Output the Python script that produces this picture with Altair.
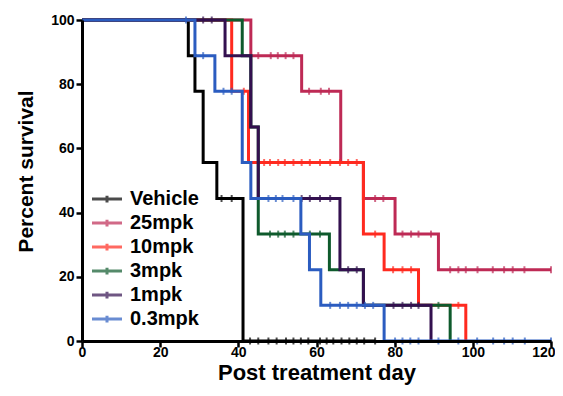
import altair as alt
import pandas as pd

GROUPS = ["Vehicle", "25mpk", "10mpk", "3mpk", "1mpk", "0.3mpk"]
COLORS = ["#000000", "#BE2A55", "#FF2A1F", "#0E5A2C", "#33104F", "#2B5CC0"]

# ---- Kaplan-Meier step curves (day, percent survival) ----
VEH_DAY = [0, 27.2, 28.9, 31.0, 34.5, 41.2, 75.0]
VEH_SURV = [100, 88.9, 77.8, 55.6, 44.4, 0, 0]
VEH_CENS_DAY = [35.7, 38.3, 43.0, 45.1, 47.7, 49.8, 52.2, 54.1, 56.0, 57.9,
                60.9, 62.6, 64.3, 66.4, 68.4, 70.3, 72.2, 75.0]
VEH_CENS_SURV = [44.4, 44.4, 0, 0, 0, 0, 0, 0, 0, 0,
                 0, 0, 0, 0, 0, 0, 0, 0]

M25_DAY = [0, 43.2, 56.2, 66.2, 72.0, 80.1, 91.2, 120]
M25_SURV = [100, 88.9, 77.8, 55.6, 44.4, 33.3, 22.2, 22.2]
M25_CENS_DAY = [45.1, 48.3, 50.1, 52.1, 54.1, 58.1, 61.1, 63.2, 75.0, 77.1,
                82.0, 84.2, 86.1, 89.3, 94.2, 96.3, 98.2, 101.2, 105.1, 108.0,
                110.2, 113.2, 120]
M25_CENS_SURV = [88.9, 88.9, 88.9, 88.9, 88.9, 77.8, 77.8, 77.8, 44.4, 44.4,
                 33.3, 33.3, 33.3, 33.3, 22.2, 22.2, 22.2, 22.2, 22.2, 22.2,
                 22.2, 22.2, 22.2]

M10_DAY = [0, 38.3, 42.6, 72.0, 77.3, 86.1, 98.2]
M10_SURV = [100, 77.8, 55.6, 33.3, 22.2, 11.1, 0]
M10_CENS_DAY = [41.4, 46.6, 48.1, 50.2, 51.9, 54.1, 56.2, 58.3, 60.9, 63.5,
                66.0, 68.1, 70.3, 75.0, 79.6, 82.0, 84.2, 96.3]
M10_CENS_SURV = [77.8, 55.6, 55.6, 55.6, 55.6, 55.6, 55.6, 55.6, 55.6, 55.6,
                 55.6, 55.6, 55.6, 33.3, 22.2, 22.2, 22.2, 11.1]

M3_DAY = [0, 41.0, 43.2, 45.1, 63.3, 72.0, 94.2]
M3_SURV = [100, 88.9, 66.7, 33.3, 22.2, 11.1, 0]
M3_CENS_DAY = [48.1, 50.2, 51.9, 54.1, 58.3, 60.9, 91.2]
M3_CENS_SURV = [33.3, 33.3, 33.3, 33.3, 33.3, 33.3, 11.1]

M1_DAY = [0, 36.6, 43.2, 45.1, 66.0, 72.0, 89.3]
M1_SURV = [100, 88.9, 66.7, 44.4, 22.2, 11.1, 0]
M1_CENS_DAY = [31.0, 33.2, 56.2, 58.3, 60.9, 63.5, 68.1, 70.3, 79.7, 82.0,
               84.2, 86.1]
M1_CENS_SURV = [100, 100, 44.4, 44.4, 44.4, 44.4, 22.2, 22.2, 11.1, 11.1,
                11.1, 11.1]

M03_DAY = [0, 28.9, 34.0, 41.0, 43.2, 56.0, 58.2, 61.1, 77.3, 120]
M03_SURV = [100, 88.9, 77.8, 55.6, 44.4, 33.3, 22.2, 11.1, 0, 0]
M03_CENS_DAY = [26.6, 31.0, 36.2, 38.3, 47.7, 49.6, 51.3, 54.1, 63.5, 66.0,
                68.1, 70.3, 72.4, 74.5, 80.1, 82.0, 84.0, 86.1, 91.2, 96.3,
                101.1, 105.2, 108.0, 110.2, 113.3, 120]
M03_CENS_SURV = [100, 88.9, 77.8, 77.8, 44.4, 44.4, 44.4, 44.4, 11.1, 11.1,
                 11.1, 11.1, 11.1, 11.1, 0, 0, 0, 0, 0, 0,
                 0, 0, 0, 0, 0, 0]

CURVES = {
    "Vehicle": (VEH_DAY, VEH_SURV, VEH_CENS_DAY, VEH_CENS_SURV),
    "25mpk": (M25_DAY, M25_SURV, M25_CENS_DAY, M25_CENS_SURV),
    "10mpk": (M10_DAY, M10_SURV, M10_CENS_DAY, M10_CENS_SURV),
    "3mpk": (M3_DAY, M3_SURV, M3_CENS_DAY, M3_CENS_SURV),
    "1mpk": (M1_DAY, M1_SURV, M1_CENS_DAY, M1_CENS_SURV),
    "0.3mpk": (M03_DAY, M03_SURV, M03_CENS_DAY, M03_CENS_SURV),
}

line_rows, cens_rows = [], []
for g, (d, s, cd, cs) in CURVES.items():
    for i, (a, b) in enumerate(zip(d, s)):
        line_rows.append({"group": g, "day": a, "surv": b, "idx": i})
    for a, b in zip(cd, cs):
        cens_rows.append({"group": g, "day": a, "surv": b})
line_df = pd.DataFrame(line_rows)
cens_df = pd.DataFrame(cens_rows)

FONT = "Liberation Sans"

x_enc = alt.X(
    "day:Q",
    scale=alt.Scale(domain=[0, 120], nice=False, zero=True),
    axis=alt.Axis(
        values=[0, 20, 40, 60, 80, 100, 120], title="Post treatment day",
        titleFontSize=22, titleY=21, titleBaseline="top", zindex=1,
        labelFlush=True, labelFlushOffset=4, labelPadding=-2,
    ),
)
y_enc = alt.Y(
    "surv:Q",
    scale=alt.Scale(domain=[0, 100], nice=False),
    axis=alt.Axis(
        values=[0, 20, 40, 60, 80, 100], title="Percent survival",
        titleFontSize=21, titleAngle=270, titleAlign="center",
        titleBaseline="bottom", titleX=-46, titleY=151, zindex=1,
        labelFlush=False, labelPadding=2,
    ),
)
color_enc = alt.Color(
    "group:N",
    scale=alt.Scale(domain=GROUPS, range=COLORS),
    legend=alt.Legend(
        title=None, orient="none", legendX=15, legendY=169, padding=0,
        symbolType="M-2,0H2M0,-0.45V0.45", symbolSize=225,
        symbolStrokeWidth=3, labelOffset=13, rowPadding=4,
        labelFont=FONT, labelFontSize=20, labelFontWeight="bold",
        labelColor="black",
    ),
)

layers = []
for g in GROUPS:
    layers.append(
        alt.Chart(line_df).transform_filter(alt.datum.group == g)
        .mark_line(interpolate="step-after", strokeWidth=3)
        .encode(x=x_enc, y=y_enc, color=color_enc, order="idx:Q")
    )
    layers.append(
        alt.Chart(cens_df).transform_filter(alt.datum.group == g)
        .mark_tick(orient="vertical", size=7, thickness=2)
        .encode(x=x_enc, y=y_enc, color=color_enc)
    )

chart = (
    alt.layer(*layers)
    .properties(
        width=469, height=321,
        autosize=alt.AutoSizeParams(type="none"),
        padding={"left": 74, "top": 12, "right": 4, "bottom": 47},
    )
    .configure_view(stroke=None)
    .configure_axis(
        grid=False, domainColor="black", domainWidth=3, tickColor="black",
        tickWidth=2.5, tickSize=6, labelFont=FONT,
        labelFontSize=14, labelFontWeight="bold", labelColor="black",
        titleFont=FONT, titleFontWeight="bold", titleColor="black",
    )
)

chart.save("out.html", embed_options={"renderer": "svg", "actions": False})
